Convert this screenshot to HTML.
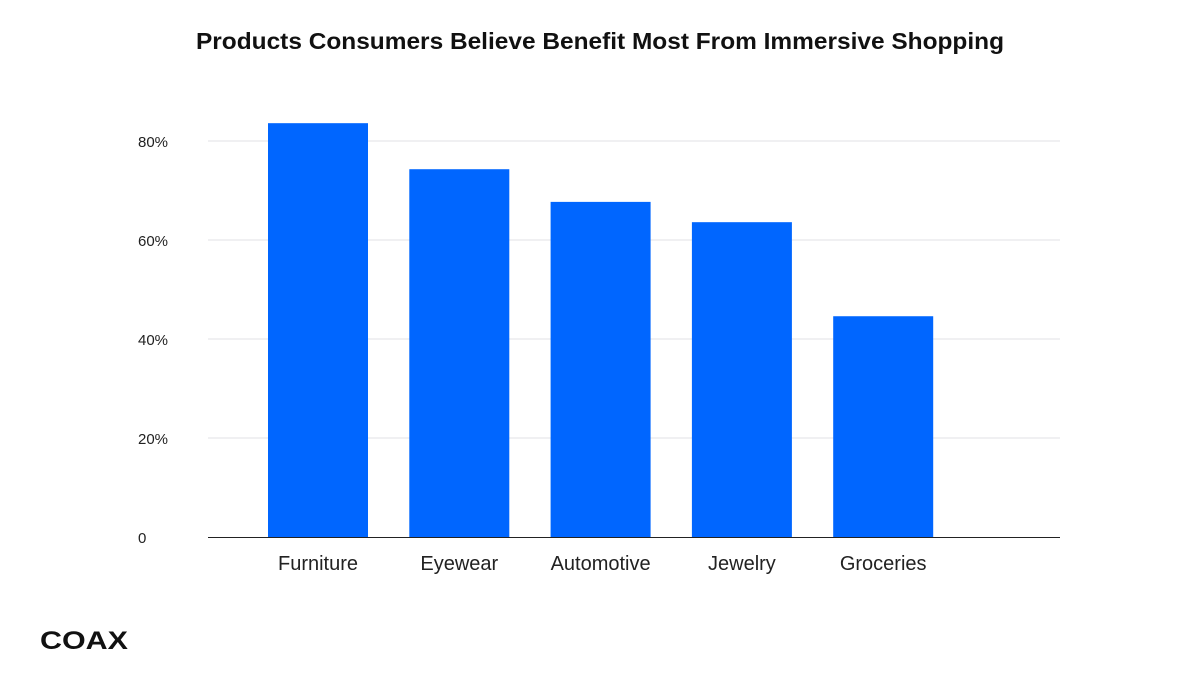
<!DOCTYPE html>
<html><head><meta charset="utf-8"><style>
body{margin:0;background:#fff;width:1200px;height:680px;overflow:hidden;font-family:"Liberation Sans",sans-serif}
</style></head><body>
<svg width="1200" height="680">
<text x="196" y="49" textLength="808" lengthAdjust="spacingAndGlyphs" font-size="23" font-weight="bold" fill="#111">Products Consumers Believe Benefit Most From Immersive Shopping</text>
<g id="grid"></g><g id="bars"></g><g id="labels"></g>
<line x1="208" y1="537.5" x2="1060" y2="537.5" stroke="#222" stroke-width="1"/>
<text x="40" y="649" textLength="88" lengthAdjust="spacingAndGlyphs" font-size="25" font-weight="bold" fill="#111">COAX</text>
</svg>
<script>
const categories=["Furniture","Eyewear","Automotive","Jewelry","Groceries"];
const values=[83.6,74.3,67.7,63.6,44.6];
const ticks=[0,20,40,60,80];
const tickLabels=["0","20%","40%","60%","80%"];
const NS="http://www.w3.org/2000/svg";
const y=v=>537-v*4.95;
const x=i=>318+i*141.3;
function mk(t,a,p){const e=document.createElementNS(NS,t);for(const k in a)e.setAttribute(k,a[k]);p.appendChild(e);return e;}
const g=document.getElementById('grid'),b=document.getElementById('bars'),l=document.getElementById('labels');
ticks.forEach((t,i)=>{
 if(t>0){const ln=mk('line',{x1:208,x2:1060,y1:y(t),y2:y(t),stroke:'#e2e2e6','stroke-width':1},g);
 
 }
 const tx=mk('text',{x:138,y:y(t)+6,'font-size':15,fill:'#222'},g);tx.textContent=tickLabels[i];
 
 
});
categories.forEach((c,i)=>{
 const r=mk('rect',{x:x(i)-50,y:y(values[i]),width:100,height:537-y(values[i]),fill:'#0066ff'},b);
 
 
 const t=mk('text',{x:x(i),y:570,'text-anchor':'middle','font-size':20,fill:'#222'},l);t.textContent=c;
 
 
});
</script>
</body></html>
